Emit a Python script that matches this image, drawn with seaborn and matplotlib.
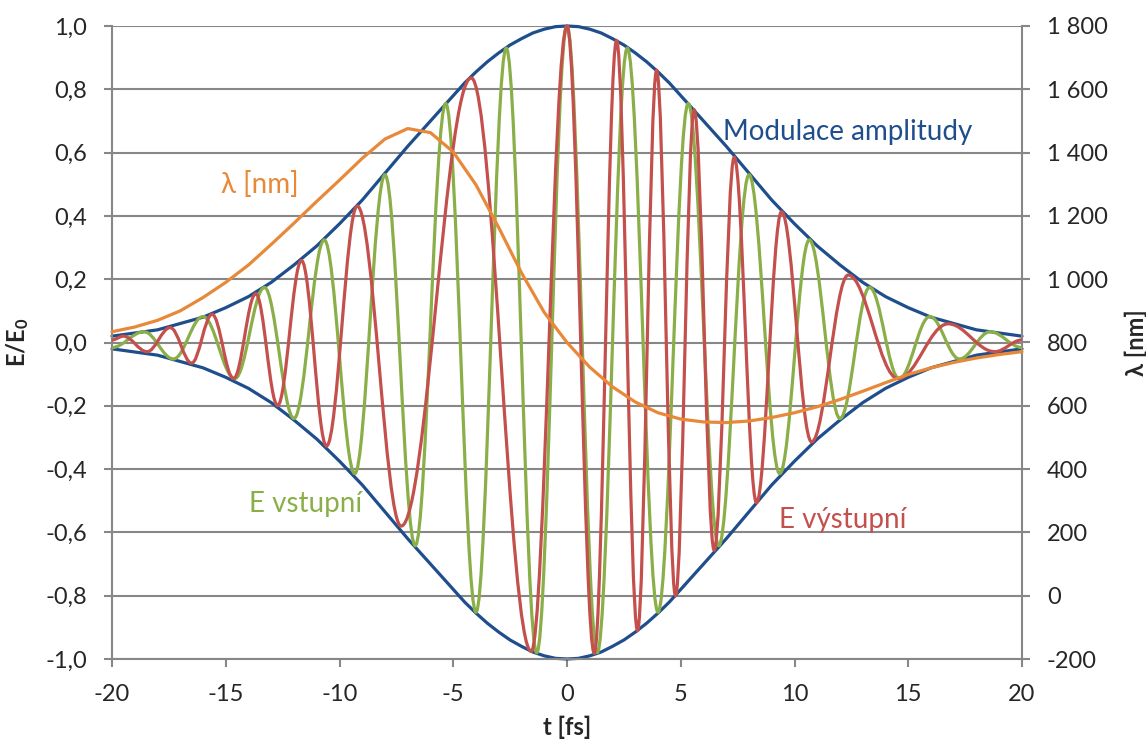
import matplotlib
matplotlib.use("Agg")
import matplotlib.pyplot as plt
from matplotlib.path import Path
from matplotlib.patches import PathPatch
import seaborn as sns
import pandas as pd

# envelope (Modulace amplitudy)
env_t = [-20, -19, -18, -17, -16, -15, -14, -13, -12, -11, -10, -9, -8, -7,
         -6, -5.5, -5, -4.5, -4, -3.5, -3, -2.5, -2, -1.5, -1, -0.5, 0,
         0.5, 1, 1.5, 2, 2.5, 3, 3.5, 4, 4.5, 5, 5.5, 6,
         7, 8, 9, 10, 11, 12, 13, 14, 15, 16, 17, 18, 19, 20]
env_v = [0.02, 0.03, 0.04, 0.06, 0.08, 0.11, 0.145, 0.19, 0.245, 0.305, 0.375, 0.45, 0.535, 0.62,
         0.70, 0.74, 0.78, 0.82, 0.855, 0.887, 0.915, 0.94, 0.96, 0.978, 0.99, 0.998, 1.0,
         0.998, 0.99, 0.978, 0.96, 0.94, 0.915, 0.887, 0.855, 0.82, 0.78, 0.74, 0.70,
         0.62, 0.535, 0.45, 0.375, 0.305, 0.245, 0.19, 0.145, 0.11, 0.08, 0.06, 0.04, 0.03, 0.02]

# E vstupni - extrema
green_t = [-20, -18.6, -17.3, -16.0, -14.6, -13.3, -12.0, -10.67, -9.33, -8.0,
           -6.67, -5.33, -4.0, -2.67, -1.33, 0, 1.33, 2.65, 4.0, 5.33, 6.67,
           8.0, 9.35, 10.65, 12.0, 13.3, 14.6, 15.95, 17.25, 18.6, 20]
green_v = [-0.016, 0.034, -0.052, 0.082, -0.114, 0.174, -0.24, 0.324, -0.414, 0.53,
           -0.642, 0.755, -0.852, 0.93, -0.98, 1.0, -0.98, 0.93, -0.852, 0.755, -0.642,
           0.53, -0.414, 0.324, -0.24, 0.174, -0.114, 0.082, -0.052, 0.034, -0.016]

# E vystupni - extrema
red_t = [-20, -19.5, -18.46, -17.44, -16.5, -15.6, -14.66, -13.68, -12.72, -11.67,
         -10.57, -9.22, -7.29, -4.21, -1.57, 0, 1.2, 2.18, 3.1, 3.94, 4.77, 5.59,
         6.47, 7.35, 8.33, 9.43, 10.75, 12.36, 14.55, 16.75, 18.8, 20]
red_v = [0.008, 0.02, -0.029, 0.047, -0.065, 0.089, -0.114, 0.154, -0.199, 0.259,
         -0.327, 0.431, -0.58, 0.836, -0.976, 1.0, -0.982, 0.954, -0.91, 0.86, -0.80, 0.735,
         -0.656, 0.585, -0.506, 0.413, -0.314, 0.213, -0.114, 0.059, -0.029, 0.008]

# lambda [nm]
lam_t = list(range(-20, 21))
lam_v = [834, 849, 870, 900, 942, 990, 1045, 1110, 1177, 1246, 1313,
         1382, 1443, 1476, 1463, 1402, 1298, 1163, 1020, 895, 800,
         722, 660, 612, 578, 558, 549, 547, 552, 563, 578,
         597, 620, 646, 673, 699, 720, 737, 751, 762, 771]

c_blue = "#1f4e8c"
c_green = "#8aae48"
c_red = "#c4504d"
c_orange = "#e8893a"
c_grid = "#878787"

sns.set_style("white")
plt.rcParams["font.family"] = ["Lato", "DejaVu Sans"]
plt.rcParams["mathtext.fontset"] = "custom"
plt.rcParams["mathtext.bf"] = "Lato:bold"
plt.rcParams["mathtext.rm"] = "Lato"

fig = plt.figure(figsize=(11.46, 7.45), dpi=100)
ax = fig.add_axes([112 / 1146, 1 - 659 / 745, 910 / 1146, 633 / 745])

env = pd.DataFrame({"t": env_t, "v": env_v})
sns.lineplot(data=env, x="t", y="v", ax=ax, color=c_blue, lw=2.3, clip_on=False)
env_low = env.assign(v=-env["v"])
sns.lineplot(data=env_low, x="t", y="v", ax=ax, color=c_blue, lw=2.3, clip_on=False)


def wave(ts, vs, color):
    # smooth half-cycles between the read extrema
    k = 0.364
    verts = [(ts[0], vs[0])]
    codes = [Path.MOVETO]
    for i in range(1, len(ts)):
        dt = ts[i] - ts[i - 1]
        verts += [(ts[i - 1] + k * dt, vs[i - 1]), (ts[i] - k * dt, vs[i]), (ts[i], vs[i])]
        codes += [Path.CURVE4] * 3
    ax.add_patch(PathPatch(Path(verts, codes), facecolor="none", edgecolor=color,
                           lw=2.3, clip_on=False, zorder=3))


wave(green_t, green_v, c_green)
wave(red_t, red_v, c_red)

ax.set_xlim(-20, 20)
ax.set_ylim(-1, 1)
ax.set_xticks(range(-20, 21, 5))
ax.set_xticklabels([str(x) for x in range(-20, 21, 5)])
yt = [i / 10 for i in range(-10, 11, 2)]
ax.set_yticks(yt)
ax.set_yticklabels([f"{y:.1f}".replace(".", ",").replace("-0,0", "0,0") for y in yt])
ax.yaxis.grid(True, color=c_grid, lw=1.5)
ax.set_axisbelow(True)
for s in ["left", "bottom", "right"]:
    ax.spines[s].set_color(c_grid)
    ax.spines[s].set_linewidth(1.5)
ax.spines["top"].set_visible(False)
ax.tick_params(axis="y", direction="out", length=6, width=1.5, color=c_grid,
               labelsize=17, pad=12, left=True)
ax.tick_params(axis="x", direction="out", length=6, width=1.5, color=c_grid,
               labelsize=17, pad=12, bottom=True)
ax.set_xlabel("t [fs]", fontsize=17, fontweight="bold", labelpad=8)
ax.set_ylabel(r"$\mathbf{E/E_0}$", fontsize=17, labelpad=10)

ax2 = ax.twinx()
lam = pd.DataFrame({"t": lam_t, "v": lam_v})
sns.lineplot(data=lam, x="t", y="v", ax=ax2, color=c_orange, lw=2.3, clip_on=False)
ax2.set_ylim(-200, 1800)
rt = list(range(-200, 1801, 200))
ax2.set_yticks(rt)
ax2.set_yticklabels([f"{v:,}".replace(",", " ") for v in rt])
for s in ax2.spines.values():
    s.set_visible(False)
ax2.tick_params(axis="y", direction="out", length=6, width=1.5, color=c_grid,
                labelsize=17, pad=12, right=True)
ax2.set_ylabel("λ [nm]", fontsize=17, fontweight="bold", labelpad=12)
ax2.set_xlim(-20, 20)

ax.text(12.35, 0.665, "Modulace amplitudy", color=c_blue, fontsize=20,
        ha="center", va="center")
ax.text(-13.5, 0.5, "λ [nm]", color=c_orange, fontsize=20, ha="center", va="center")
ax.text(-11.5, -0.51, "E vstupní", color=c_green, fontsize=20, ha="center", va="center")
ax.text(12.1, -0.56, "E výstupní", color=c_red, fontsize=20, ha="center", va="center")

fig.savefig("out.png", dpi=100)
